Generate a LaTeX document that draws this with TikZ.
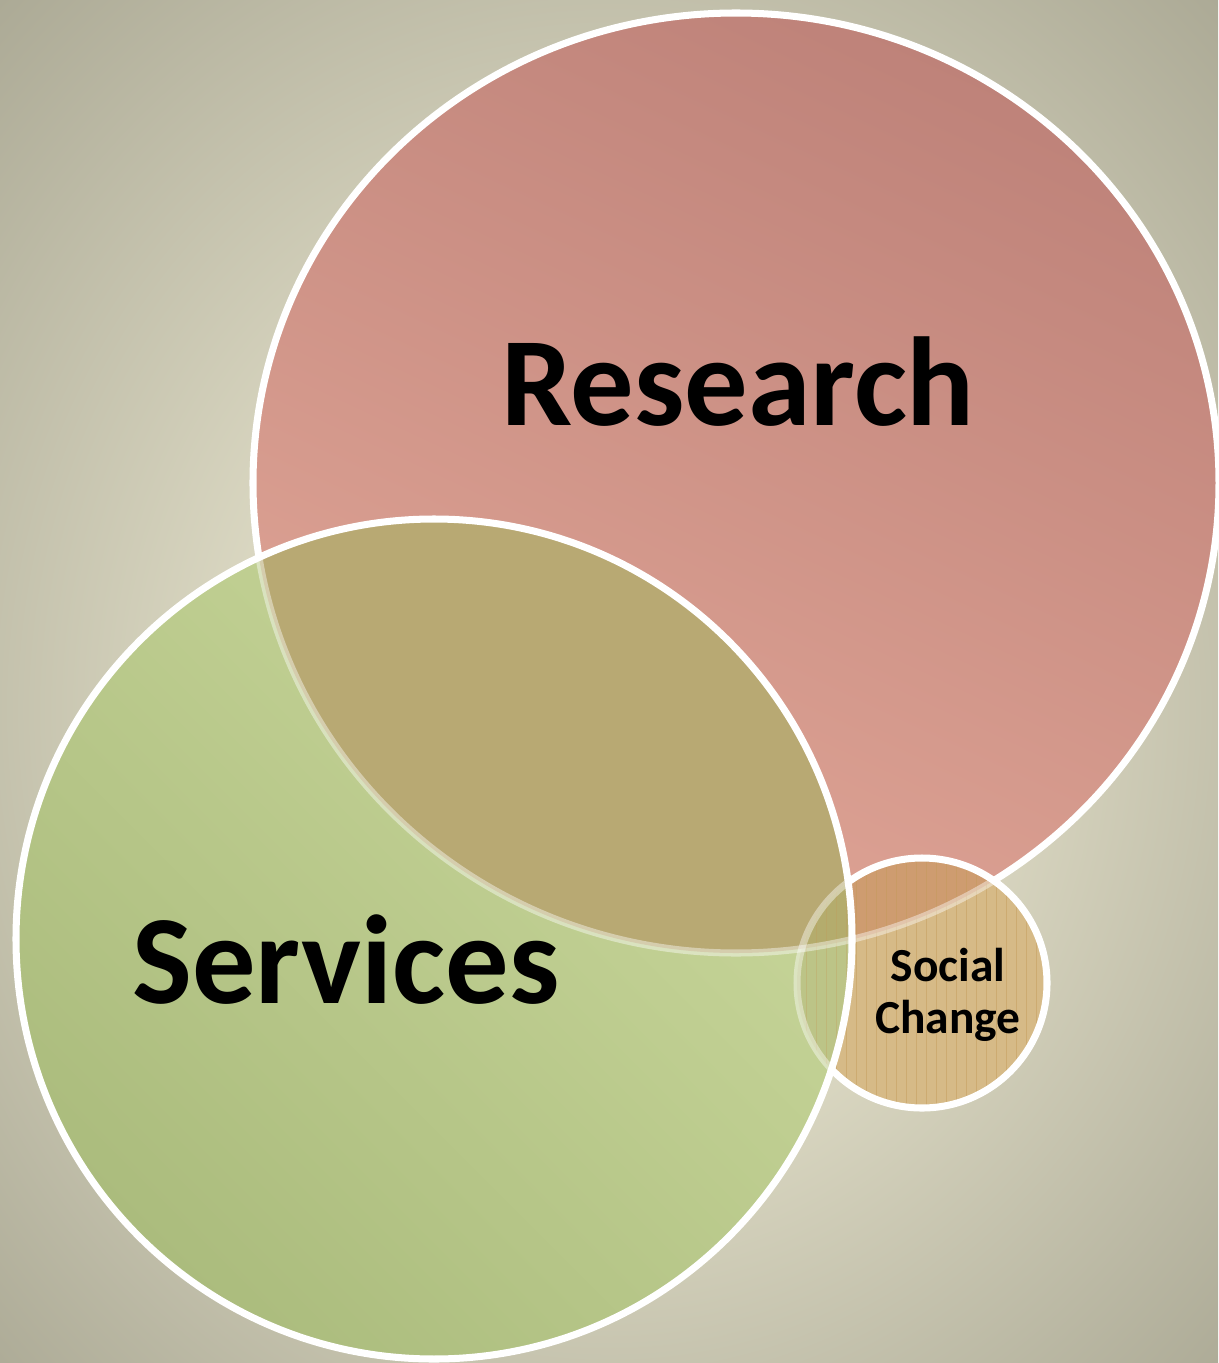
\documentclass[tikz,border=0pt]{standalone}
\usepackage{fontspec}
\setmainfont{Carlito}

\definecolor{bglight}{HTML}{E4E1CB}
\definecolor{bgdark}{HTML}{A7A591}
\definecolor{resdark}{HTML}{BE8279}
\definecolor{reslight}{HTML}{E1A697}
\definecolor{servlight}{HTML}{CAD89C}
\definecolor{servdark}{HTML}{ABBC7D}
\definecolor{overlapbrown}{HTML}{B8A973}
\definecolor{socialtan}{HTML}{D6BA87}
\definecolor{socialorange}{HTML}{CE9C70}
\definecolor{socialgreen}{HTML}{BCC487}
\definecolor{socialolive}{HTML}{B4AC6D}
\definecolor{stripecol}{HTML}{C49A58}

\pgfdeclareradialshading{bgglow}{\pgfpoint{0bp}{-2bp}}{color(0bp)=(bglight); color(11bp)=(bglight); color(38bp)=(bgdark); color(50bp)=(bgdark)}

% the three circles
\newcommand{\researchpath}{(736,483) ellipse [x radius=483, y radius=470]}
\newcommand{\servicespath}{(434,939) ellipse [x radius=418, y radius=420]}
\newcommand{\socialpath}{(922,983) circle [radius=125]}

\tikzset{
  rim/.style={draw=white, line width=4pt},
  ghostrim/.style={draw=white, line width=4pt, opacity=0.42},
  stripe/.style={draw=stripecol, line width=0.5pt, opacity=0.45},
  bigword/.style={anchor=base, font=\bfseries\fontsize{72}{84}\selectfont},
  smallword/.style={anchor=base, font=\bfseries\fontsize{27}{30}\selectfont},
}

\begin{document}
\begin{tikzpicture}[x=0.2mm,y=-0.2mm]
% Fix the frame and shade the background
\useasboundingbox (0,0) rectangle (1218,1363);
\shade[shading=bgglow] (0,0) rectangle (1218,1363);
% Research circle and its rim
\shade[top color=resdark, bottom color=reslight, shading angle=-25] \researchpath;
\draw[rim] \researchpath;
% Social Change on top of Research
\begin{scope}
\clip \socialpath;
\fill[socialtan] \socialpath;
\fill[socialorange] \researchpath;
\foreach \x in {796,806,...,1050}
  \draw[stripe] (\x,850) -- (\x,1115);
\draw[ghostrim] \researchpath;
\end{scope}
\draw[rim] \socialpath;
% Services on top of both, overlaps filled by hand
\shade[top color=servlight, bottom color=servdark, shading angle=-45] \servicespath;
\begin{scope}
\clip \servicespath;
\fill[overlapbrown] \researchpath;
\begin{scope}
\clip \socialpath;
\fill[socialgreen] \socialpath;
\fill[socialolive] \researchpath;
\foreach \x in {796,806,...,870}
  \draw[stripe,opacity=0.3] (\x,850) -- (\x,1115);
\end{scope}
\draw[ghostrim] \researchpath;
\draw[ghostrim] \socialpath;
\end{scope}
\draw[rim] \servicespath;
% Labels
\node[bigword] (research) at (738,425) {Research};
\node[bigword] (services) at (346,1003) {Services};
\node[smallword] (social) at (948,981) {Social};
\node[smallword] (change) at (948,1033) {Change};
\end{tikzpicture}
\end{document}
